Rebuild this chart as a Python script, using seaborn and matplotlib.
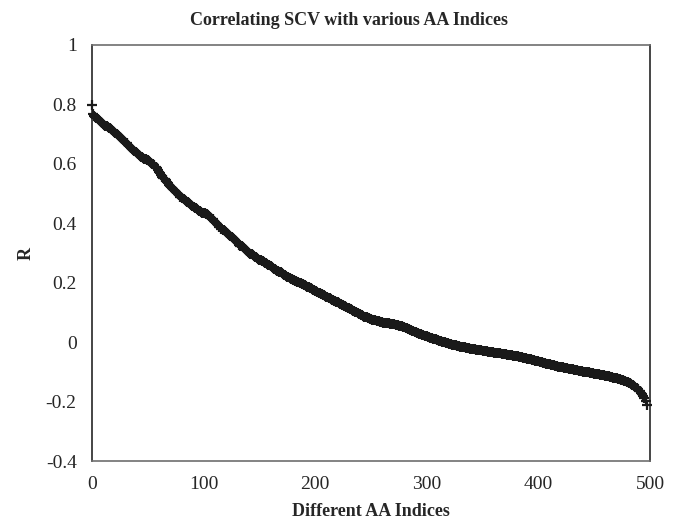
import numpy as np
import pandas as pd
import seaborn as sns
import matplotlib.pyplot as plt

# R values sorted high to low in blocks of 50
r_000 = [0.798, 0.768, 0.762, 0.758, 0.755, 0.752, 0.748, 0.744, 0.740, 0.737,
         0.733, 0.731, 0.728, 0.726, 0.723, 0.721, 0.719, 0.717, 0.715, 0.712,
         0.708, 0.704, 0.700, 0.697, 0.693, 0.690, 0.686, 0.682, 0.679, 0.676,
         0.673, 0.669, 0.665, 0.661, 0.657, 0.654, 0.650, 0.646, 0.643, 0.640,
         0.636, 0.633, 0.630, 0.627, 0.624, 0.622, 0.620, 0.618, 0.616, 0.614]
r_050 = [0.612, 0.610, 0.607, 0.604, 0.601, 0.598, 0.595, 0.591, 0.586, 0.580,
         0.574, 0.568, 0.562, 0.557, 0.552, 0.548, 0.544, 0.539, 0.534, 0.530,
         0.526, 0.522, 0.518, 0.514, 0.510, 0.506, 0.502, 0.498, 0.494, 0.490,
         0.487, 0.484, 0.481, 0.478, 0.475, 0.472, 0.470, 0.467, 0.464, 0.461,
         0.459, 0.456, 0.453, 0.450, 0.447, 0.444, 0.442, 0.440, 0.438, 0.436]
r_100 = [0.434, 0.433, 0.431, 0.430, 0.428, 0.425, 0.421, 0.417, 0.413, 0.409,
         0.405, 0.401, 0.397, 0.393, 0.389, 0.386, 0.382, 0.379, 0.376, 0.373,
         0.370, 0.367, 0.364, 0.361, 0.358, 0.355, 0.352, 0.348, 0.344, 0.340,
         0.336, 0.332, 0.328, 0.325, 0.322, 0.319, 0.316, 0.313, 0.310, 0.307,
         0.304, 0.301, 0.298, 0.295, 0.292, 0.290, 0.287, 0.285, 0.282, 0.280]
r_150 = [0.278, 0.276, 0.274, 0.272, 0.270, 0.268, 0.265, 0.263, 0.261, 0.258,
         0.255, 0.252, 0.249, 0.247, 0.245, 0.243, 0.241, 0.239, 0.237, 0.235,
         0.232, 0.230, 0.227, 0.225, 0.222, 0.220, 0.218, 0.216, 0.213, 0.211,
         0.209, 0.208, 0.207, 0.205, 0.204, 0.202, 0.200, 0.198, 0.197, 0.195,
         0.193, 0.191, 0.189, 0.187, 0.185, 0.183, 0.181, 0.179, 0.177, 0.175]
r_200 = [0.173, 0.171, 0.169, 0.167, 0.165, 0.163, 0.161, 0.159, 0.157, 0.155,
         0.153, 0.151, 0.149, 0.147, 0.145, 0.143, 0.141, 0.140, 0.138, 0.136,
         0.134, 0.132, 0.130, 0.128, 0.126, 0.124, 0.122, 0.120, 0.118, 0.116,
         0.114, 0.112, 0.110, 0.108, 0.106, 0.104, 0.102, 0.100, 0.098, 0.096,
         0.094, 0.092, 0.090, 0.088, 0.086, 0.084, 0.083, 0.081, 0.080, 0.078]
r_250 = [0.077, 0.076, 0.075, 0.074, 0.073, 0.072, 0.071, 0.070, 0.069, 0.068,
         0.067, 0.066, 0.065, 0.065, 0.064, 0.063, 0.063, 0.062, 0.062, 0.061,
         0.060, 0.060, 0.059, 0.058, 0.057, 0.056, 0.055, 0.054, 0.053, 0.051,
         0.050, 0.048, 0.046, 0.045, 0.043, 0.041, 0.040, 0.038, 0.037, 0.035,
         0.034, 0.032, 0.031, 0.029, 0.028, 0.026, 0.025, 0.023, 0.022, 0.021]
r_300 = [0.019, 0.018, 0.017, 0.015, 0.014, 0.013, 0.011, 0.010, 0.009, 0.008,
         0.006, 0.005, 0.004, 0.003, 0.002, 0.001, -0.001, -0.002, -0.003, -0.004,
         -0.005, -0.006, -0.007, -0.008, -0.009, -0.010, -0.011, -0.012, -0.013, -0.014,
         -0.015, -0.016, -0.016, -0.017, -0.018, -0.019, -0.019, -0.020, -0.021, -0.022,
         -0.022, -0.023, -0.024, -0.024, -0.025, -0.026, -0.026, -0.027, -0.027, -0.028]
r_350 = [-0.029, -0.029, -0.030, -0.030, -0.031, -0.032, -0.032, -0.033, -0.033, -0.034,
         -0.035, -0.035, -0.036, -0.036, -0.037, -0.038, -0.038, -0.039, -0.039, -0.040,
         -0.041, -0.041, -0.042, -0.042, -0.043, -0.044, -0.044, -0.045, -0.045, -0.046,
         -0.047, -0.047, -0.048, -0.049, -0.050, -0.051, -0.052, -0.053, -0.054, -0.055,
         -0.056, -0.057, -0.058, -0.058, -0.059, -0.060, -0.061, -0.062, -0.063, -0.064]
r_400 = [-0.065, -0.066, -0.067, -0.068, -0.069, -0.070, -0.071, -0.072, -0.073, -0.074,
         -0.075, -0.076, -0.077, -0.078, -0.078, -0.079, -0.080, -0.081, -0.082, -0.082,
         -0.083, -0.084, -0.085, -0.086, -0.086, -0.087, -0.088, -0.089, -0.090, -0.090,
         -0.091, -0.092, -0.093, -0.094, -0.094, -0.095, -0.096, -0.097, -0.097, -0.098,
         -0.099, -0.100, -0.100, -0.101, -0.102, -0.102, -0.103, -0.104, -0.104, -0.105]
r_450 = [-0.106, -0.106, -0.107, -0.108, -0.108, -0.109, -0.110, -0.110, -0.111, -0.112,
         -0.113, -0.113, -0.114, -0.115, -0.116, -0.117, -0.118, -0.119, -0.120, -0.121,
         -0.122, -0.123, -0.124, -0.125, -0.126, -0.127, -0.128, -0.130, -0.131, -0.133,
         -0.135, -0.137, -0.139, -0.141, -0.143, -0.145, -0.148, -0.151, -0.155, -0.159,
         -0.163, -0.166, -0.170, -0.176, -0.180, -0.188, -0.199, -0.212]

x_ticks = [0, 100, 200, 300, 400, 500]
y_ticks = [-0.4, -0.2, 0, 0.2, 0.4, 0.6, 0.8, 1]
y_ticklabels = ['-0.4', '-0.2', '0', '0.2', '0.4', '0.6', '0.8', '1']

r_all = r_000 + r_050 + r_100 + r_150 + r_200 + r_250 + r_300 + r_350 + r_400 + r_450
df = pd.DataFrame({'index': np.arange(len(r_all)), 'R': r_all})

sns.set_style('white')
plt.rcParams['font.family'] = ['Liberation Serif', 'DejaVu Serif']

fig = plt.figure(figsize=(6.77, 5.24), dpi=100)
ax = fig.add_axes([92/677, 63/524, 558/677, 416/524])

sns.scatterplot(data=df, x='index', y='R', marker='+', color='#1a1a1a',
                s=60, linewidth=1.6, ax=ax, legend=False, clip_on=False, zorder=3)

ax.set_xlim(0, 500)
ax.set_ylim(-0.4, 1)
ax.set_xticks(x_ticks)
ax.set_yticks(y_ticks)
ax.set_yticklabels(y_ticklabels)
ax.tick_params(length=0, labelsize=14, pad=11)

for side in ['left', 'right']:
    ax.spines[side].set_color('#262626')
for side in ['top', 'bottom']:
    ax.spines[side].set_color('#6e6e6e')
for s in ax.spines.values():
    s.set_linewidth(1.2)

ax.set_xlabel('Different AA Indices', fontsize=13, fontweight='bold', labelpad=7)
ax.set_ylabel('R', fontsize=13, fontweight='bold')
ax.yaxis.set_label_coords(-0.103, 0.5)
fig.suptitle('Correlating SCV with various AA Indices', fontsize=13,
             fontweight='bold', x=0.515, y=0.978)

plt.savefig('out.png', dpi=100)
